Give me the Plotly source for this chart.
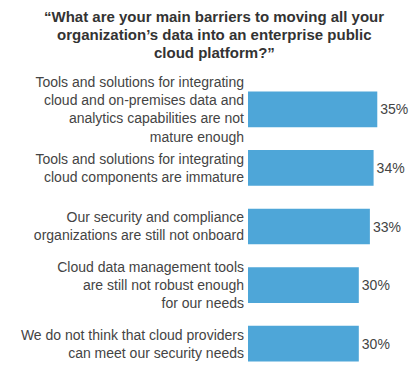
import plotly.graph_objects as go

categories = [
    "Tools and solutions for integrating<br>cloud and on-premises data and<br>analytics capabilities are not<br>mature enough",
    "Tools and solutions for integrating<br>cloud components are immature",
    "Our security and compliance<br>organizations are still not onboard",
    "Cloud data management tools<br>are still not robust enough<br>for our needs",
    "We do not think that cloud providers<br>can meet our security needs",
]
values = [35, 34, 33, 30, 30]
title_lines = [
    "“What are your main barriers to moving all your",
    "organization’s data into an enterprise public",
    "cloud platform?”",
]

fig = go.Figure(go.Bar(
    x=values,
    y=categories,
    orientation="h",
    marker=dict(color="#4ea6d8", line=dict(width=0)),
    text=[f"{v}%" for v in values],
    textposition="outside",
    textfont=dict(family="Liberation Sans, Arial", size=14, color="#444444"),
    cliponaxis=False,
    width=0.61,
))

for i, line in enumerate(title_lines):
    fig.add_annotation(
        text="<b>" + line + "</b>",
        xref="paper", yref="paper",
        x=(214 - 248) / 164, y=1 + (80 - (17 + 18 * i)) / 293,
        xanchor="center", yanchor="middle",
        showarrow=False, align="center",
        font=dict(family="Liberation Sans, Arial", size=15, color="#333333"),
    )

fig.update_layout(
    width=412, height=373,
    margin=dict(l=248, r=0, t=80, b=0),
    paper_bgcolor="white", plot_bgcolor="white",
    showlegend=False,
    xaxis=dict(range=[0, 44.4], visible=False, fixedrange=True, domain=[0, 1]),
    yaxis=dict(
        categoryorder="array", categoryarray=categories,
        autorange="reversed", fixedrange=True,
        showgrid=False, zeroline=False, showline=False, ticks="",
        ticklabelstandoff=3, automargin=False,
        tickfont=dict(family="Liberation Sans, Arial", size=14, color="#444444"),
    ),
)
fig.write_html(
    "out.html",
    config={"displayModeBar": False},
    post_script="document.body.style.margin='0';document.body.style.overflow='hidden';",
)
